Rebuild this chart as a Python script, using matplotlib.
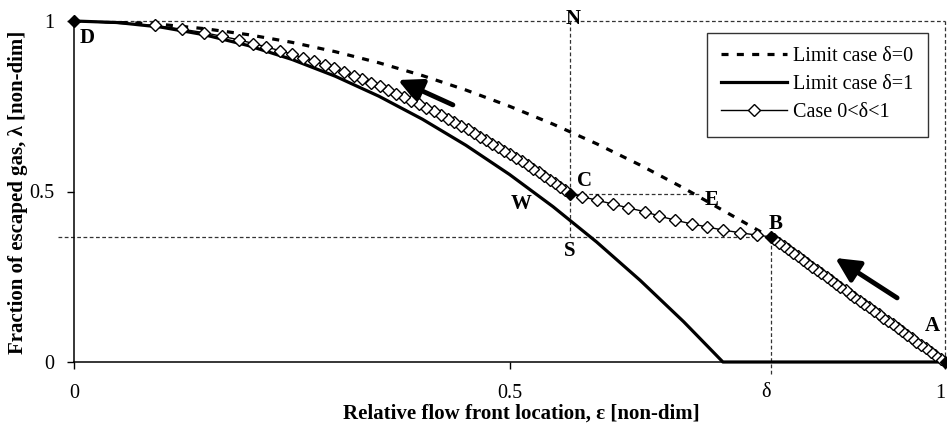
import matplotlib.pyplot as plt
import numpy as np

plt.rcParams['font.family'] = ['Liberation Serif', 'DejaVu Serif']

# limit case delta = 0 (dashed)
eps_d0 = [0.0, 0.05, 0.1, 0.15, 0.2, 0.25, 0.3, 0.35, 0.4, 0.45, 0.5, 0.55,
          0.6, 0.65, 0.7, 0.75, 0.8]
lam_d0 = [1.0, 0.9975, 0.99, 0.9775, 0.96, 0.9375, 0.91, 0.8775, 0.84, 0.7975,
          0.75, 0.6975, 0.64, 0.5775, 0.51, 0.4375, 0.365]

# limit case delta = 1 (solid)
eps_d1 = [0.0, 0.05, 0.1, 0.15, 0.2, 0.25, 0.3, 0.35, 0.4, 0.45, 0.5, 0.55,
          0.6, 0.65, 0.7, 0.745, 1.0]
lam_d1 = [1.0, 0.9955, 0.982, 0.9595, 0.928, 0.8875, 0.838, 0.7795, 0.712,
          0.6355, 0.55, 0.4555, 0.352, 0.2395, 0.118, 0.0, 0.0]

# case 0<delta<1, A -> B
eps_ab = [1.000, 0.995, 0.989, 0.984, 0.978, 0.973, 0.967, 0.962, 0.956, 0.951,
          0.946, 0.940, 0.935, 0.929, 0.924, 0.918, 0.913, 0.907, 0.902, 0.896,
          0.891, 0.886, 0.880, 0.875, 0.869, 0.864, 0.858, 0.853, 0.847, 0.842,
          0.837, 0.831, 0.826, 0.820, 0.815, 0.809, 0.804]
lam_ab = [0.00, 0.01, 0.02, 0.03, 0.04, 0.05, 0.06, 0.07, 0.08, 0.09,
          0.10, 0.11, 0.12, 0.13, 0.14, 0.15, 0.16, 0.17, 0.18, 0.19,
          0.20, 0.21, 0.22, 0.23, 0.24, 0.25, 0.26, 0.27, 0.28, 0.29,
          0.30, 0.31, 0.32, 0.33, 0.34, 0.35, 0.36]
# B -> C
eps_bc = [0.800, 0.784, 0.765, 0.745, 0.727, 0.709, 0.690, 0.672, 0.655, 0.636,
          0.619, 0.601, 0.583]
lam_bc = [0.367, 0.372, 0.379, 0.387, 0.396, 0.405, 0.416, 0.428, 0.441, 0.452,
          0.463, 0.474, 0.485]
# C -> D
eps_cd = [0.570, 0.564, 0.558, 0.552, 0.546, 0.540, 0.534, 0.527, 0.521, 0.514,
          0.508, 0.501, 0.494, 0.487, 0.480, 0.473, 0.466, 0.459, 0.452, 0.444,
          0.436, 0.429, 0.421, 0.413, 0.404, 0.396, 0.387, 0.379, 0.370, 0.360,
          0.351, 0.341, 0.331, 0.321, 0.310, 0.299, 0.288, 0.276, 0.263, 0.250,
          0.236, 0.221, 0.206, 0.189, 0.170, 0.149, 0.124, 0.093, 0.0]
lam_cd = [0.493, 0.504, 0.514, 0.525, 0.535, 0.546, 0.556, 0.567, 0.577, 0.588,
          0.598, 0.609, 0.619, 0.630, 0.640, 0.651, 0.661, 0.672, 0.682, 0.693,
          0.703, 0.714, 0.724, 0.735, 0.745, 0.756, 0.766, 0.777, 0.787, 0.798,
          0.808, 0.819, 0.829, 0.840, 0.850, 0.861, 0.871, 0.882, 0.892, 0.903,
          0.913, 0.924, 0.934, 0.945, 0.955, 0.966, 0.976, 0.987, 1.0]

# special points
pt_names = ['A', 'B', 'C', 'D']
pt_eps = [1.0, 0.8, 0.57, 0.0]
pt_lam = [0.0, 0.367, 0.493, 1.0]

fig = plt.figure(figsize=(9.47, 4.29), dpi=100)
ax = fig.add_axes([74 / 947, 1 - 362 / 429, 871 / 947, 341 / 429])

# guide lines
gl = dict(color='#333333', lw=0.9, ls=(0, (3, 2)), clip_on=False, zorder=1)
ax.plot([0, 1], [1, 1], **gl)
ax.plot([1, 1], [0, 1], **gl)
ax.plot([-0.018, 0.8], [0.367, 0.367], **gl)
ax.plot([0.57, 0.57], [0.367, 1.0], **gl)
ax.plot([0.8, 0.8], [-0.035, 0.367], **gl)
ax.plot([0.57, 0.72], [0.493, 0.493], **gl)

ax.plot(eps_d0, lam_d0, color='black', lw=2.3, dashes=(2.2, 2.6),
        label='Limit case δ=0', zorder=3)
ax.plot(eps_d1, lam_d1, color='black', lw=2.3, label='Limit case δ=1',
        zorder=3, clip_on=False)

eps_case = eps_ab + eps_bc + eps_cd
lam_case = lam_ab + lam_bc + lam_cd
ax.plot(eps_case, lam_case, color='black', lw=1, marker='D', ms=6,
        mfc='white', mec='black', mew=1, label='Case 0<δ<1', zorder=4,
        clip_on=False)
ax.plot(pt_eps, pt_lam, ls='none', marker='D', ms=5.5, color='black',
        zorder=5, clip_on=False)

# point labels
lbl_names = ['D', 'N', 'C', 'W', 'E', 'B', 'S', 'A']
lbl_x = [0.015, 0.573, 0.586, 0.513, 0.732, 0.805, 0.569, 0.986]
lbl_y = [0.950, 1.006, 0.531, 0.463, 0.475, 0.405, 0.326, 0.106]
for n, x, y in zip(lbl_names, lbl_x, lbl_y):
    ax.text(x, y, n, fontsize=15, fontweight='bold', ha='center', va='center',
            zorder=6)

# arrows
arr = dict(arrowstyle='-|>,head_length=0.8,head_width=0.4', lw=3.5,
           color='black', mutation_scale=18, shrinkA=0, shrinkB=0)
ax.annotate('', xy=(0.372, 0.827), xytext=(0.435, 0.754), arrowprops=arr)
ax.annotate('', xy=(0.874, 0.305), xytext=(0.945, 0.188), arrowprops=arr)

ax.set_xlim(0, 1)
ax.set_ylim(0, 1)
ax.set_xticks([0, 0.5, 1])
ax.set_xticklabels(['0', '0.5', '1'])
ax.set_yticks([0, 0.5, 1])
ax.set_yticklabels(['0', '0.5', '1'])
ax.tick_params(axis='x', direction='out', length=5, width=1, pad=11, labelsize=14.5)
ax.tick_params(axis='y', direction='out', length=5, width=1, pad=9, labelsize=14.5)
ax.get_xticklabels()[-1].set_ha('right')
ax.text(0.795, -0.09, 'δ', fontsize=14.5, ha='center', va='center')

for s in ['top', 'right']:
    ax.spines[s].set_visible(False)
for s in ['left', 'bottom']:
    ax.spines[s].set_linewidth(1.1)

ax.set_xlabel('Relative flow front location, ε [non-dim]', fontsize=15,
              fontweight='bold', va='center')
ax.xaxis.set_label_coords(0.513, -0.15)
ax.set_ylabel('Fraction of escaped gas, λ [non-dim]', fontsize=15,
              fontweight='bold', va='center')
ax.yaxis.set_label_coords(-0.064, 0.498)

leg = ax.legend(loc='upper right', bbox_to_anchor=(0.98, 0.965), fontsize=14.5,
                frameon=True, fancybox=False, edgecolor='black',
                handlelength=3.3, labelspacing=0.45, borderpad=0.7,
                handletextpad=0.3, borderaxespad=0)
leg.get_frame().set_linewidth(1)

fig.savefig('out.png', dpi=100)
